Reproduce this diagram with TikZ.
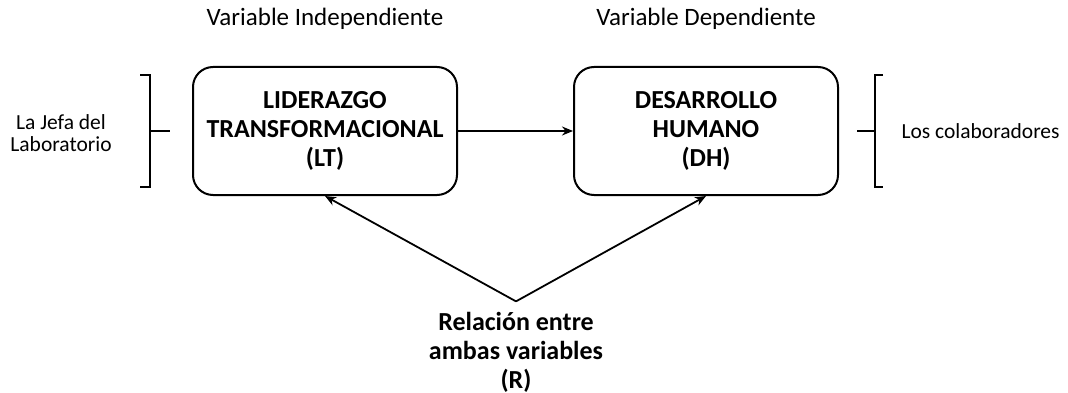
\documentclass[tikz,border=0pt]{standalone}
\usepackage{fontspec}
\setmainfont{Carlito}
\usetikzlibrary{positioning,arrows.meta}

\tikzstyle{varbox} = [rectangle, rounded corners=20pt, minimum width=264pt, minimum height=128pt, text centered, align=center, draw=black, line width=2pt, font=\fontsize{26}{29}\selectfont\bfseries]
\tikzstyle{arrow} = [-{Stealth[length=11pt,width=9pt]}, line width=1.8pt]
\tikzstyle{label} = [align=center, font=\fontsize{21.5}{22.5}\selectfont]
\tikzstyle{title} = [align=center, font=\fontsize{25}{28}\selectfont]
\tikzstyle{bracket} = [line width=1.8pt]

\begin{document}
\begin{tikzpicture}[x=1pt,y=-1pt]
	\useasboundingbox (0,0) rectangle (1068,393);
	\node (lt) [varbox] at (325,131) {LIDERAZGO\\TRANSFORMACIONAL\\(LT)};
	\node (dh) [varbox] at (706,131) {DESARROLLO\\HUMANO\\(DH)};
	\node (vi) [title] at (325,19) {Variable Independiente};
	\node (vd) [title] at (706,19) {Variable Dependiente};
	\node (jefa) [label] at (61,133) {La Jefa del\\Laboratorio};
	\node (colab) [label, anchor=west] at (898,131) {Los colaboradores};
	\node (rel) [label, font=\fontsize{26}{29}\selectfont\bfseries] at (516,352) {Relación entre\\ambas variables\\(R)};
	\coordinate (apex) at ([yshift=7pt]rel.north);
	
	\draw [arrow] (lt) -- (dh);
	\draw [arrow] (apex) -- (lt.south);
	\draw [arrow] (apex) -- (dh.south);
	
	% llaves
	\draw [bracket] (140,75) -- (150,75) -- (150,187) -- (140,187);
	\draw [bracket] (150,131) -- (170,131);
	\draw [bracket] (883,75) -- (875,75) -- (875,187) -- (883,187);
	\draw [bracket] (857,131) -- (875,131);
\end{tikzpicture}
\end{document}
